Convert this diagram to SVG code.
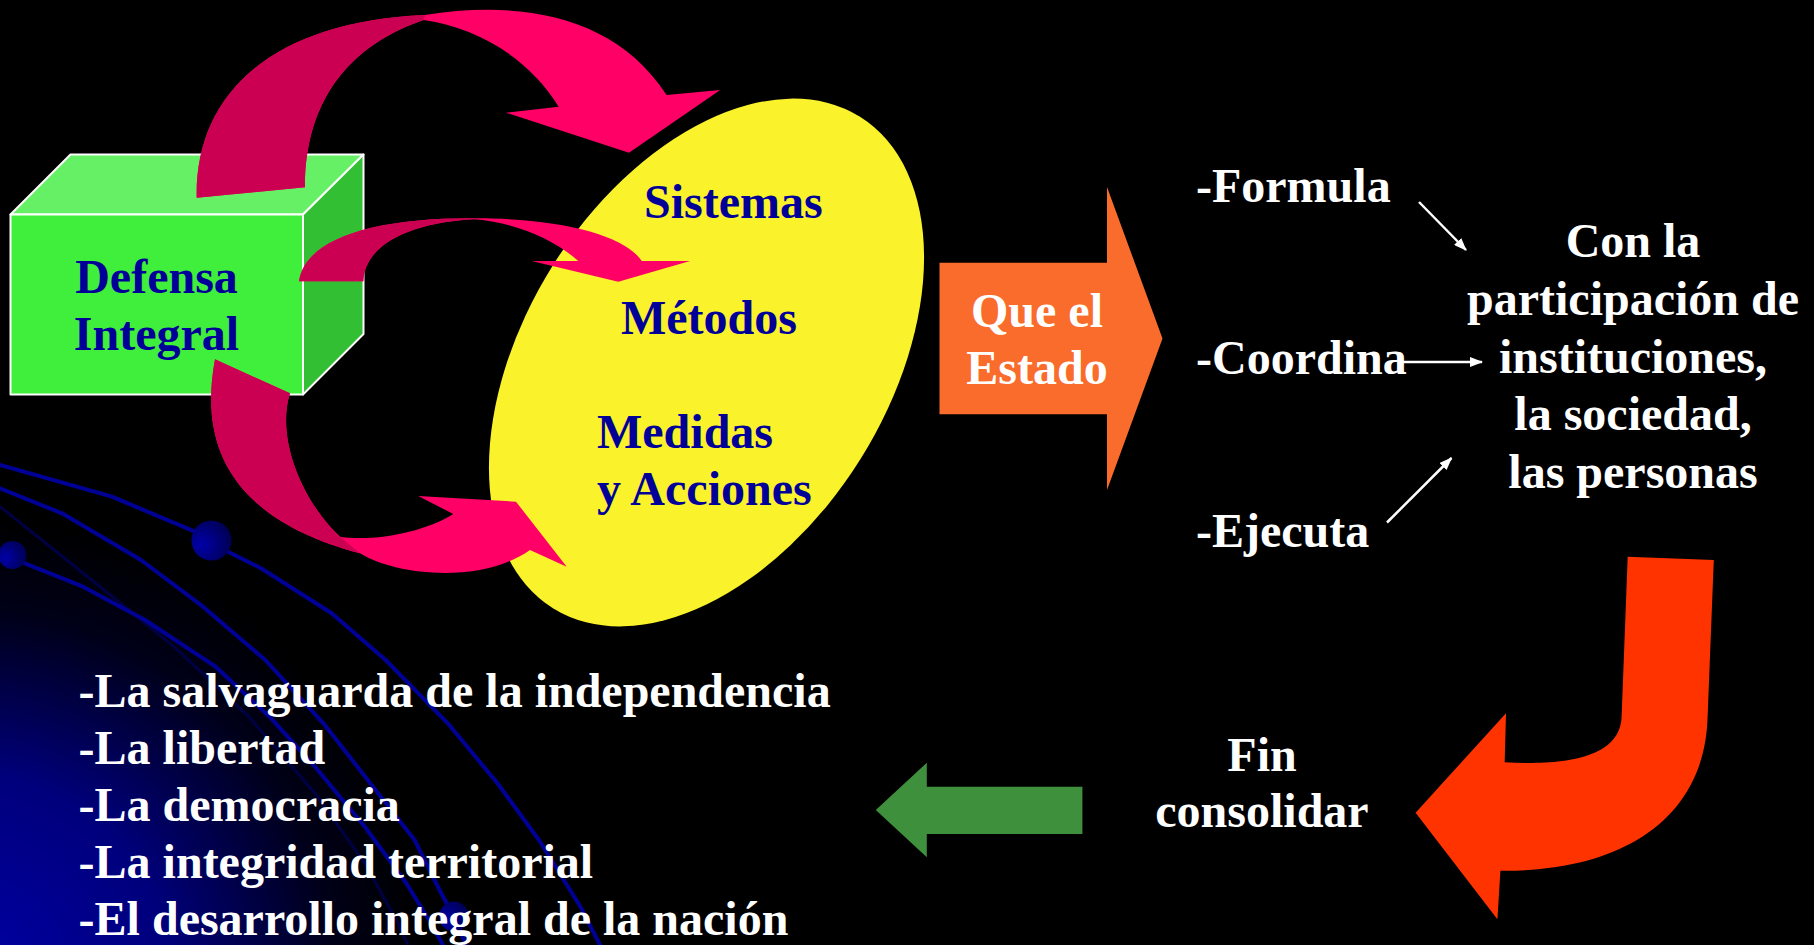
<svg xmlns="http://www.w3.org/2000/svg" width="1814" height="945" viewBox="0 0 1814 945">
<defs>
  <radialGradient id="bgGlow" gradientUnits="userSpaceOnUse" cx="-40" cy="985" r="470">
    <stop offset="0" stop-color="#0000A8"/>
    <stop offset="0.45" stop-color="#00007C"/>
    <stop offset="0.8" stop-color="#000018"/>
    <stop offset="1" stop-color="#000000"/>
  </radialGradient>
  <radialGradient id="ball" cx="0.25" cy="0.6" r="0.85">
    <stop offset="0" stop-color="#0000A8"/>
    <stop offset="1" stop-color="#000048"/>
  </radialGradient>
  <marker id="ah" markerUnits="userSpaceOnUse" markerWidth="13" markerHeight="10" refX="12" refY="5" orient="auto">
    <path d="M0,0 L13,5 L0,10 Z" fill="#ffffff"/>
  </marker>
</defs>
<style>
  .t{font-family:"Liberation Serif","Times New Roman",serif;font-weight:bold;font-size:48px}
  .w{fill:#ffffff}
  .b{fill:#000099}
  .m{text-anchor:middle}
  .deco{fill:none;stroke:#000096;stroke-width:4;stroke-linejoin:round;stroke-linecap:round}
  .faint{fill:none;stroke:#000045;stroke-width:3;stroke-linejoin:round}
  .pl{fill:#FF0066}
  .pd{fill:#CC0052}
  .face{stroke:#ffffff;stroke-width:2;stroke-linejoin:round}
  .conn{fill:none;stroke:#ffffff;stroke-width:2.5;marker-end:url(#ah)}
</style>

<g id="background">
  <rect x="0" y="0" width="1814" height="945" fill="#000000"/>
  <rect x="0" y="0" width="1814" height="945" fill="url(#bgGlow)"/>
  <polyline class="faint" points="0,506.7 83,573 174,646.7 248.8,716.7 315,793.3 364.8,863.3 398,923.3 408,945"/>
  <polyline class="deco" points="0,465 112,496.7 195,531.7 228,551.7 261,568.3 331.7,613.3 385.6,660 447.8,723.3 497.5,783.3 539,840 580.4,906.7 600,945"/>
  <polyline class="deco" points="0,488.3 62,513.3 141,560 203,606.7 265.3,660 323.4,723.3 373,786.7 414.6,840 439.5,890 454,916.7 466,945"/>
  <polyline class="deco" points="12.4,555 24.9,563.3 83,586.7 145,620 215.6,666.7 269.5,716.7 315,766.7 364.8,826.7 406.3,883.3 431,923.3 443,945"/>
  <ellipse cx="211.5" cy="540.5" rx="20" ry="20" fill="url(#ball)"/>
  <ellipse cx="12.5" cy="555" rx="14" ry="14" fill="url(#ball)"/>
  <ellipse cx="454" cy="916.5" rx="15" ry="15" fill="url(#ball)"/>
</g>

<g id="node-defensa">
  <polygon class="face" points="10.5,214.5 70.5,154.5 363.5,154.5 303,214.5" fill="#66F066"/>
  <polygon class="face" points="303,214.5 363.5,154.5 363.5,334 303,394.5" fill="#33BF33"/>
  <rect class="face" x="10.5" y="214.5" width="292.5" height="180" fill="#40EE3C"/>
  <text class="t b m" x="156.5" y="292.6">Defensa</text>
  <text class="t b m" x="156.5" y="350">Integral</text>
</g>

<g id="node-ellipse">
  <ellipse cx="706.5" cy="362.5" rx="181.8" ry="289.7" transform="rotate(32 706.5 362.5)" fill="#FAF22A"/>
  <text class="t b" x="644" y="218">Sistemas</text>
  <text class="t b" x="621" y="333.5">Métodos</text>
  <text class="t b" x="597" y="448">Medidas</text>
  <text class="t b" x="597" y="505">y Acciones</text>
</g>

<g id="connectors">
  <g id="arrow-top">
    <path class="pl" d="M196.7,197.7 C195,95 270,22 425,15 C520,0 615,15 666.6,95 L720.2,90 L629,152.7 L506,112.7 L558.7,106.7 C530,60 480,28 423.6,20 C350,45 305,100 305,187.3 Z"/>
    <path class="pd" d="M196.7,197.7 C195,95 270,22 425,15 L423.6,20 C350,45 305,100 305,187.3 Z"/>
  </g>
  <g id="arrow-middle">
    <path class="pl" d="M299,281.3 C305,240 370,218 473.3,218.3 C560,218 625,235 641.7,261 L690,261 L618.3,281.7 L531.7,261 L578.3,261 C555,240 515,222 473.3,219.3 C420,222 365,240 363.3,281.3 Z"/>
    <path class="pd" d="M299,281.3 C305,240 370,218 473.3,218.3 L473.3,219.3 C420,222 365,240 363.3,281.3 Z"/>
  </g>
  <g id="arrow-bottom">
    <path class="pl" d="M215,359.3 C198,450 235,520 360,553.3 C395,575 480,585 530,550 L566.7,566.7 L516,501.7 L418.3,496 L453.3,514 C425,532 375,542 340,536.7 C305,505 275,440 290,393.3 Z"/>
    <path class="pd" d="M215,359.3 C198,450 235,520 360,553.3 L340,536.7 C305,505 275,440 290,393.3 Z"/>
  </g>
  <line class="conn" x1="1419" y1="202" x2="1466" y2="250"/>
  <line class="conn" x1="1403" y1="362" x2="1482" y2="362"/>
  <line class="conn" x1="1387" y1="522.5" x2="1451.5" y2="458"/>
  <path id="arrow-u" d="M1627.7,556.7 L1713.8,560 L1707.6,716.7 C1705,820 1620,872 1500.4,870.7 L1497.4,919.3 L1415.6,812.7 L1506,713.3 L1504.7,762.3 C1560,765 1620,760 1621.6,716.7 Z" fill="#FF3300"/>
  <polygon id="arrow-green" points="1082.4,786.7 926.8,786.7 926.8,762.7 875.8,810 926.8,857.3 926.8,834 1082.4,834" fill="#3F903D"/>
</g>

<g id="node-estado">
  <polygon points="939.5,262.7 1107,262.7 1107,187 1162.5,338.5 1107,490 1107,414.3 939.5,414.3" fill="#F96C2B"/>
  <text class="t w m" x="1037" y="327">Que el</text>
  <text class="t w m" x="1037" y="384">Estado</text>
</g>

<g id="node-acciones">
  <text class="t w" x="1196" y="202">-Formula</text>
  <text class="t w" x="1196" y="374">-Coordina</text>
  <text class="t w" x="1196" y="547">-Ejecuta</text>
</g>

<g id="node-participacion">
  <text class="t w m" x="1633" y="257.3">Con la</text>
  <text class="t w m" x="1633" y="315">participación de</text>
  <text class="t w m" x="1633" y="372.7">instituciones,</text>
  <text class="t w m" x="1633" y="430">la sociedad,</text>
  <text class="t w m" x="1633" y="488.3">las personas</text>
</g>

<g id="node-fin">
  <text class="t w m" x="1262" y="770.5">Fin</text>
  <text class="t w m" x="1262" y="827">consolidar</text>
</g>

<g id="node-lista">
  <text class="t w" x="78.6" y="706.5">-La salvaguarda de la independencia</text>
  <text class="t w" x="78.6" y="763.5">-La libertad</text>
  <text class="t w" x="78.6" y="820.5">-La democracia</text>
  <text class="t w" x="78.6" y="877.5">-La integridad territorial</text>
  <text class="t w" x="78.6" y="934.5">-El desarrollo integral de la nación</text>
</g>
</svg>
